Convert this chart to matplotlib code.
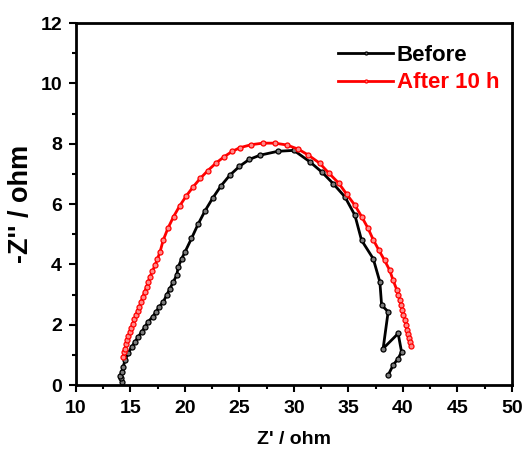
import matplotlib
matplotlib.use("Agg")
import matplotlib.pyplot as plt
from matplotlib.ticker import MultipleLocator

plt.rcParams['font.family'] = ['Liberation Sans', 'DejaVu Sans']
plt.rcParams['font.weight'] = 'bold'

# --- data (Z' , -Z'') ---
before_x = [14.2, 14.12, 14.05, 14.19, 14.34, 14.5, 14.8, 15.11, 15.41, 15.72,
            16.02, 16.33, 16.63, 17.03, 17.34, 17.64, 18.01, 18.32, 18.62, 18.93,
            19.24, 19.39, 19.7, 20.0, 20.6, 21.2, 21.85, 22.55, 23.3, 24.1,
            25.0, 25.9, 26.88, 28.53, 30.0, 31.47, 32.6, 33.6, 34.68, 35.6,
            36.21, 37.28, 37.89, 38.05, 38.65, 38.19, 39.57, 39.88, 39.57, 39.11,
            38.65]
before_y = [0.1, 0.22, 0.3, 0.44, 0.61, 0.83, 1.05, 1.27, 1.43, 1.6,
            1.76, 1.93, 2.1, 2.26, 2.43, 2.59, 2.76, 2.98, 3.2, 3.42,
            3.64, 3.92, 4.19, 4.41, 4.86, 5.33, 5.78, 6.2, 6.6, 6.95,
            7.25, 7.48, 7.62, 7.75, 7.78, 7.4, 7.05, 6.68, 6.24, 5.63,
            4.8, 4.19, 3.42, 2.65, 2.43, 1.21, 1.71, 1.1, 0.88, 0.66,
            0.33]

after_x = [14.34, 14.42, 14.5, 14.58, 14.65, 14.8, 14.95, 15.08, 15.2, 15.35,
           15.5, 15.65, 15.81, 15.96, 16.12, 16.3, 16.48, 16.63, 16.79, 17.02,
           17.25, 17.48, 17.71, 18.0, 18.44, 18.95, 19.5, 20.1, 20.75, 21.4,
           22.1, 22.85, 23.6, 24.35, 25.05, 26.1, 27.15, 28.25, 29.35, 30.4,
           31.3, 32.35, 33.2, 34.1, 34.86, 35.6, 36.24, 36.8, 37.28, 37.8,
           38.33, 38.8, 39.1, 39.45, 39.6, 39.72, 39.82, 39.92, 40.05, 40.18,
           40.28, 40.37, 40.46, 40.55, 40.64, 40.73]
after_y = [0.94, 1.08, 1.21, 1.35, 1.49, 1.62, 1.76, 1.9, 2.04, 2.18,
           2.32, 2.46, 2.59, 2.75, 2.92, 3.09, 3.26, 3.42, 3.59, 3.78,
           3.97, 4.19, 4.41, 4.8, 5.2, 5.58, 5.93, 6.26, 6.57, 6.85,
           7.11, 7.36, 7.57, 7.75, 7.87, 7.97, 8.02, 8.02, 7.96, 7.82,
           7.63, 7.36, 7.03, 6.7, 6.32, 5.96, 5.57, 5.2, 4.82, 4.47,
           4.13, 3.8, 3.48, 3.15, 2.98, 2.82, 2.66, 2.5, 2.33, 2.16,
           2.0, 1.84, 1.7, 1.56, 1.42, 1.28]

fig = plt.figure(figsize=(5.26, 4.53), dpi=100)
ax = fig.add_axes([0.1445, 0.150, 0.8285, 0.799])

ax.plot(before_x, before_y, '-o', color='black', lw=2, ms=3.6,
        mfc='#7a7a7a', mec='black', mew=0.9, label='Before')
ax.plot(after_x, after_y, '-o', color='red', lw=2, ms=3.6,
        mfc='#ff8a8a', mec='red', mew=0.9, label='After 10 h')

ax.set_xlim(10, 50)
ax.set_ylim(0, 12)
ax.xaxis.set_major_locator(MultipleLocator(5))
ax.xaxis.set_minor_locator(MultipleLocator(2.5))
ax.yaxis.set_major_locator(MultipleLocator(2))
ax.yaxis.set_minor_locator(MultipleLocator(1))
ax.tick_params(which='major', direction='out', length=5, width=1.5, labelsize=14)
ax.tick_params(axis='x', which='major', pad=6)
ax.tick_params(axis='y', which='major', pad=5)
ax.tick_params(which='minor', direction='out', length=3, width=1.5)
for s in ax.spines.values():
    s.set_linewidth(2)

ax.set_xlabel("Z' / ohm", fontsize=14, fontweight='bold', labelpad=10)
ax.set_ylabel("-Z'' / ohm", fontsize=19.5, fontweight='bold', labelpad=5)

leg = ax.legend(loc='upper left', frameon=False, fontsize=16, handlelength=2.5,
                handletextpad=0.15, labelspacing=0.3, markerscale=0.6,
                borderpad=0, borderaxespad=0, bbox_to_anchor=(0.601, 0.94))
for t, c in zip(leg.get_texts(), ['black', 'red']):
    t.set_color(c)
    t.set_fontweight('bold')

fig.savefig("out.png", dpi=100)
